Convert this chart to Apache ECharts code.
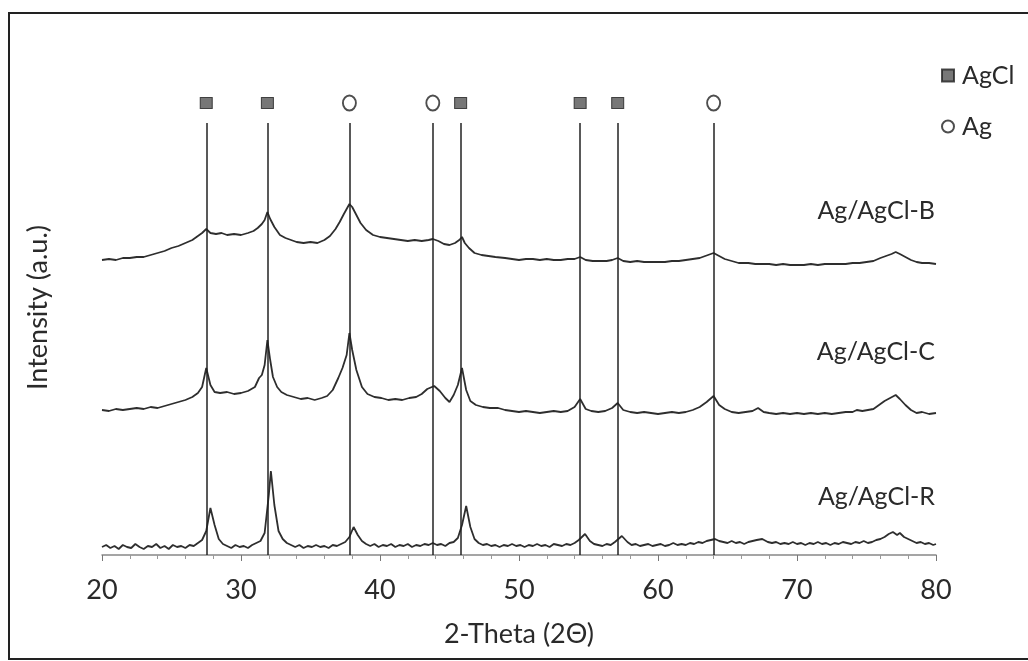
<!DOCTYPE html>
<html>
<head>
<meta charset="utf-8">
<script src="https://cdn.jsdelivr.net/npm/echarts@6/dist/echarts.min.js"></script>
<style>html,body{margin:0;padding:0;background:#fff;}#c{width:1028px;height:661px;}</style>
</head>
<body>
<div id="c"></div>
<script>
// ---- data (2-theta, intensity a.u.) ----
const seriesNames = ['Ag/AgCl-B', 'Ag/AgCl-C', 'Ag/AgCl-R'];
const dataB = [[20,295],[20.5,296],[21,295],[21.5,297],[22,297],[22.5,298],[23,298],[23.5,300],[24,302],[24.5,304],[25,307],[25.5,309],[26,312],[26.5,315],[26.9,319],[27.2,322],[27.5,326],[27.8,322],[28.2,321],[28.6,322],[29,320],[29.5,321],[30,320],[30.5,322],[30.9,324],[31.2,327],[31.5,331],[31.7,335],[31.9,343],[32.1,336],[32.4,328],[32.8,320],[33.2,317],[33.6,315],[34,313],[34.5,312],[35,313],[35.5,312],[36,315],[36.4,319],[36.8,326],[37.1,333],[37.4,341],[37.6,346],[37.8,351],[38.0,348],[38.3,340],[38.6,332],[39,325],[39.5,320],[40,318],[40.5,317],[41,316],[41.5,315],[42,314],[42.5,315],[43,314],[43.5,315],[43.8,316],[44.2,314],[44.6,311],[45,310],[45.4,312],[45.7,315],[45.9,318],[46.1,312],[46.4,307],[46.8,302],[47.3,300],[47.8,299],[48.3,298],[49,297],[49.5,296],[50,295],[50.5,296],[51,296],[51.5,295],[52,296],[52.5,295],[53,295],[53.5,296],[54,296],[54.4,298],[54.8,295],[55.3,294],[55.8,294],[56.3,294],[56.7,295],[57.1,297],[57.5,294],[58,293],[58.5,294],[59,293],[59.5,293],[60,293],[60.5,293],[61,294],[61.5,294],[62,295],[62.5,296],[63,297],[63.4,299],[64,302],[64.4,299],[64.8,296],[65.3,294],[65.8,292],[66.5,292],[67,291],[67.5,291],[68,291],[68.5,290],[69,291],[69.5,290],[70,290],[70.5,290],[71,291],[71.5,290],[72,291],[72.5,291],[73,291],[73.5,291],[74,292],[74.5,292],[75,293],[75.5,294],[76,297],[76.4,299],[76.8,301],[77.1,303],[77.4,301],[77.8,298],[78.2,295],[78.6,293],[79,292],[79.5,292],[80,291]];
const dataC = [[20,145],[20.5,144],[21,146],[21.5,145],[22,146],[22.5,147],[23,146],[23.5,148],[24,147],[24.5,149],[25,151],[25.5,153],[26,155],[26.5,158],[26.9,162],[27.2,168],[27.5,187],[27.8,170],[28.1,163],[28.5,162],[29,163],[29.5,161],[30,162],[30.5,164],[31,168],[31.3,177],[31.5,180],[31.7,190],[31.9,215],[32.1,195],[32.3,178],[32.6,168],[32.9,163],[33.3,160],[33.8,158],[34.3,156],[34.8,157],[35.3,155],[35.8,157],[36.2,159],[36.6,165],[37,177],[37.3,187],[37.6,200],[37.8,222],[38.0,205],[38.3,185],[38.7,168],[39.1,161],[39.6,158],[40.1,157],[40.6,155],[41.1,156],[41.6,155],[42.1,157],[42.6,158],[43.0,161],[43.4,166],[43.9,169],[44.3,164],[44.7,157],[45.0,153],[45.3,160],[45.6,170],[45.9,187],[46.2,165],[46.5,154],[46.9,150],[47.4,148],[47.9,147],[48.5,147],[49,145],[49.5,144],[50,143],[50.5,144],[51,143],[51.5,142],[52,143],[52.5,144],[53,143],[53.5,144],[54,148],[54.4,156],[54.8,146],[55.2,144],[55.7,143],[56.2,144],[56.7,147],[57.1,152],[57.5,145],[58,143],[58.5,142],[59,143],[59.5,142],[60,141],[60.5,142],[61,143],[61.5,142],[62,143],[62.5,145],[63,148],[63.5,153],[64,159],[64.4,150],[64.8,146],[65.3,143],[65.8,142],[66.3,143],[66.8,144],[67.2,147],[67.6,143],[68,142],[68.5,141],[69,142],[69.5,141],[70,142],[70.5,141],[71,142],[71.5,141],[72,142],[72.5,141],[73,142],[73.5,143],[74,143],[74.3,145],[74.7,144],[75.1,145],[75.5,146],[75.9,150],[76.3,154],[76.7,157],[77.1,160],[77.4,156],[77.8,150],[78.2,145],[78.6,142],[79,143],[79.5,141],[80,142]];
const dataR = [[20,8],[20.3,10],[20.6,7],[20.9,9],[21.2,6],[21.5,10],[21.8,8],[22.1,7],[22.4,11],[22.7,8],[23,6],[23.3,9],[23.6,8],[23.9,11],[24.2,7],[24.5,9],[24.8,6],[25.1,10],[25.4,8],[25.7,9],[26,7],[26.3,10],[26.6,9],[26.9,12],[27.2,15],[27.5,24],[27.8,47],[28.1,30],[28.4,16],[28.7,11],[29,9],[29.3,7],[29.6,10],[29.9,8],[30.2,9],[30.5,7],[30.8,10],[31.1,12],[31.4,14],[31.7,22],[32.0,60],[32.15,84],[32.4,50],[32.7,24],[33,16],[33.3,12],[33.6,10],[33.9,8],[34.2,10],[34.5,7],[34.8,9],[35.1,8],[35.4,10],[35.7,8],[36,9],[36.3,7],[36.6,10],[36.9,9],[37.2,11],[37.5,13],[37.8,18],[38.1,28],[38.4,20],[38.7,14],[39,11],[39.3,9],[39.6,11],[39.9,8],[40.2,10],[40.5,9],[40.8,11],[41.1,8],[41.4,10],[41.7,9],[42,11],[42.3,8],[42.6,10],[42.9,9],[43.2,11],[43.5,10],[43.8,12],[44.1,10],[44.4,11],[44.7,9],[45,12],[45.3,13],[45.6,17],[45.9,30],[46.2,49],[46.5,28],[46.8,16],[47.1,12],[47.4,10],[47.7,11],[48,9],[48.3,10],[48.6,8],[48.9,10],[49.2,9],[49.5,11],[49.8,9],[50.1,10],[50.4,8],[50.7,10],[51,9],[51.3,11],[51.6,9],[51.9,10],[52.2,8],[52.5,11],[52.8,10],[53.1,9],[53.4,11],[53.7,10],[54,12],[54.3,15],[54.75,21],[55.1,14],[55.4,11],[55.7,10],[56,9],[56.3,11],[56.6,10],[56.9,13],[57.4,19],[57.8,13],[58.1,10],[58.4,11],[58.7,9],[59,10],[59.3,11],[59.6,9],[59.9,10],[60.2,11],[60.5,9],[60.8,10],[61.1,12],[61.4,10],[61.7,11],[62,10],[62.3,12],[62.6,11],[62.9,13],[63.2,12],[63.5,14],[63.8,15],[64.1,16],[64.4,14],[64.7,13],[65,12],[65.3,14],[65.6,12],[65.9,13],[66.2,11],[66.5,13],[66.8,14],[67.1,15],[67.5,16],[67.9,13],[68.2,12],[68.5,13],[68.8,11],[69.1,12],[69.4,11],[69.7,13],[70,11],[70.3,12],[70.6,10],[70.9,12],[71.2,11],[71.5,13],[71.8,11],[72.1,12],[72.4,10],[72.7,12],[73,11],[73.3,13],[73.6,12],[73.9,11],[74.2,13],[74.5,12],[74.8,14],[75.1,12],[75.4,13],[75.7,15],[76,16],[76.3,18],[76.6,21],[76.9,23],[77.2,20],[77.4,22],[77.7,18],[78,16],[78.3,14],[78.6,12],[78.9,13],[79.2,11],[79.5,12],[79.8,10],[80,11]];
// reference peak positions
const agclPeaks = [27.5, 31.9, 45.8, 54.4, 57.1];
const agPeaks = [37.8, 43.8, 64.0];
const markerLevel = 452;   // intensity level where phase symbols sit
const lineTop = 432;       // top of reference lines
const xTicks = [20, 30, 40, 50, 60, 70, 80];

const FONT = 'Lato';
const INK = '#2a2a2a';
const chart = echarts.init(document.getElementById('c'), null, {renderer: 'canvas'});
const allPeaks = agclPeaks.concat(agPeaks).sort((a, b) => a - b);

const curve = (name, data) => ({
  name, type: 'line', data, showSymbol: false, symbol: 'none', smooth: false,
  lineStyle: {color: '#2e2e2e', width: 1.8}, z: 3, silent: true
});

chart.setOption({
  animation: false,
  backgroundColor: '#fff',
  grid: {left: 102, right: 92, top: 60, bottom: 106},
  xAxis: {
    type: 'value', min: xTicks[0], max: xTicks[xTicks.length - 1], interval: 10,
    axisLine: {show: true, lineStyle: {color: '#888', width: 1.5}},
    axisTick: {show: true, length: 6, lineStyle: {color: '#777'}},
    minorTick: {show: true, splitNumber: 5, length: 4, lineStyle: {color: '#999'}},
    splitLine: {show: false},
    axisLabel: {fontFamily: FONT, fontSize: 27, color: INK, margin: 22},
    name: '2-Theta (2Θ)', nameLocation: 'middle', nameGap: 66,
    nameTextStyle: {fontFamily: FONT, fontSize: 27, color: INK}
  },
  yAxis: {
    type: 'value', min: 0, max: 495,
    axisLine: {show: false}, axisTick: {show: false}, axisLabel: {show: false},
    splitLine: {show: false},
    name: 'Intensity (a.u.)', nameLocation: 'middle', nameGap: 50, nameRotate: 90,
    nameTextStyle: {fontFamily: FONT, fontSize: 27, color: INK}
  },
  legend: {
    orient: 'vertical', left: 936, top: 58, itemGap: 26, itemWidth: 12, itemHeight: 12,
    data: [{name: 'AgCl', icon: 'rect'}, {name: 'Ag', icon: 'emptyCircle'}],
    textStyle: {fontFamily: FONT, fontSize: 25, color: INK, padding: [0, 0, 0, 3]}
  },
  graphic: [
    {type: 'rect', shape: {x: 9, y: 13, width: 1040, height: 646}, style: {fill: 'none', stroke: '#222', lineWidth: 2}, silent: true},
    {type: 'text', right: 93, top: 198, style: {text: seriesNames[0], font: '25px ' + FONT, fill: INK}},
    {type: 'text', right: 93, top: 339, style: {text: seriesNames[1], font: '25px ' + FONT, fill: INK}},
    {type: 'text', right: 93, top: 484, style: {text: seriesNames[2], font: '25px ' + FONT, fill: INK}}
  ],
  series: [
    curve(seriesNames[0], dataB),
    curve(seriesNames[1], dataC),
    curve(seriesNames[2], dataR),
    {
      name: 'refLines', type: 'line', data: [], silent: true,
      markLine: {
        symbol: 'none', silent: true, animation: false,
        label: {show: false},
        lineStyle: {color: '#222', width: 1.5, type: 'solid'},
        data: allPeaks.map(p => [{coord: [p, 0]}, {coord: [p, lineTop]}])
      }
    },
    {
      name: 'AgCl', type: 'scatter', symbol: 'rect', symbolSize: [12, 11],
      itemStyle: {color: '#555', borderColor: '#222', borderWidth: 1},
      data: agclPeaks.map(p => [p, markerLevel]), silent: true
    },
    {
      name: 'Ag', type: 'scatter', symbol: 'emptyCircle', symbolSize: [13, 15],
      itemStyle: {color: '#222', borderColor: '#222', borderWidth: 1.8},
      data: agPeaks.map(p => [p, markerLevel]), silent: true
    }
  ]
});
</script>
</body>
</html>
